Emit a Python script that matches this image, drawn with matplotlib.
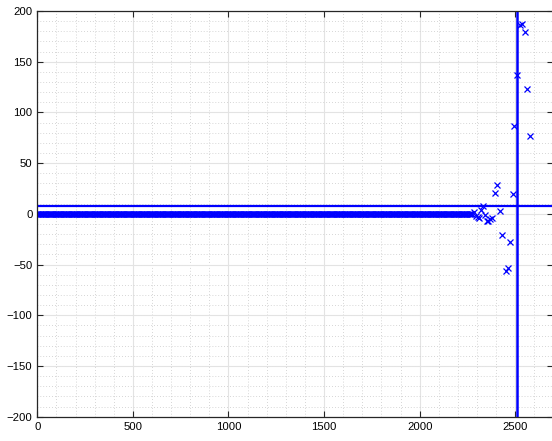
import matplotlib
matplotlib.use("Agg")
import matplotlib.pyplot as plt
import numpy as np
from matplotlib.ticker import MultipleLocator

# Data
# long run of zeros at the start
zero_x = np.arange(0, 2280, 6)
zero_y = np.zeros(len(zero_x))

# scattered tail points
tail_x = [2282, 2296, 2303, 2308, 2320, 2329, 2343, 2352, 2360, 2369,
          2381, 2395, 2407, 2421, 2433, 2453, 2460, 2474, 2486, 2496,
          2512, 2526, 2536, 2551, 2564, 2578]
tail_y = [1.8, -2, -3, -4, 4, 8, -1, -7.4, -7, -5.4,
          -4.5, 21, 28, 2.5, -20.5, -56, -53.5, -28, 20, 87,
          137, 186, 187, 179, 123, 77]

hline_y = 8
vline_x = 2509

x_ticks = [0, 500, 1000, 1500, 2000, 2500]
y_ticks = [-200, -150, -100, -50, 0, 50, 100, 150, 200]

plt.rcParams['font.family'] = ['Liberation Sans', 'DejaVu Sans']

fig = plt.figure(figsize=(5.52, 4.41), dpi=100)
# right edge of the box sits just outside the picture
ax = fig.add_axes([0.0676, 0.0551, 0.9350, 0.9199])

blue = "#0000ff"
ax.plot(zero_x, zero_y, "x", color=blue, markersize=5, mew=0.9)
ax.plot(tail_x, tail_y, "x", color=blue, markersize=5, mew=0.9)
ax.axhline(hline_y, color=blue, linewidth=1.6)
ax.axvline(vline_x, color=blue, linewidth=1.8)

ax.set_xlim(0, 2700)
ax.set_ylim(-200, 200)
ax.set_xticks(x_ticks)
ax.set_yticks(y_ticks)
ax.xaxis.set_minor_locator(MultipleLocator(100))
ax.yaxis.set_minor_locator(MultipleLocator(10))

# octave style grid
ax.grid(which="major", color="#e3e3e3", linewidth=0.8, linestyle="-")
ax.grid(which="minor", color="#c8c8c8", linewidth=0.6, linestyle=(0, (1, 2.5)))
ax.set_axisbelow(True)

ax.tick_params(which="both", direction="in", top=True, right=True,
               colors="#262626", labelsize=8.2, labelcolor="black")
ax.tick_params(which="major", length=4, width=0.8)
ax.tick_params(which="minor", length=0)
for s in ax.spines.values():
    s.set_color("#262626")
    s.set_linewidth(0.9)

fig.savefig("out.png", dpi=100)
